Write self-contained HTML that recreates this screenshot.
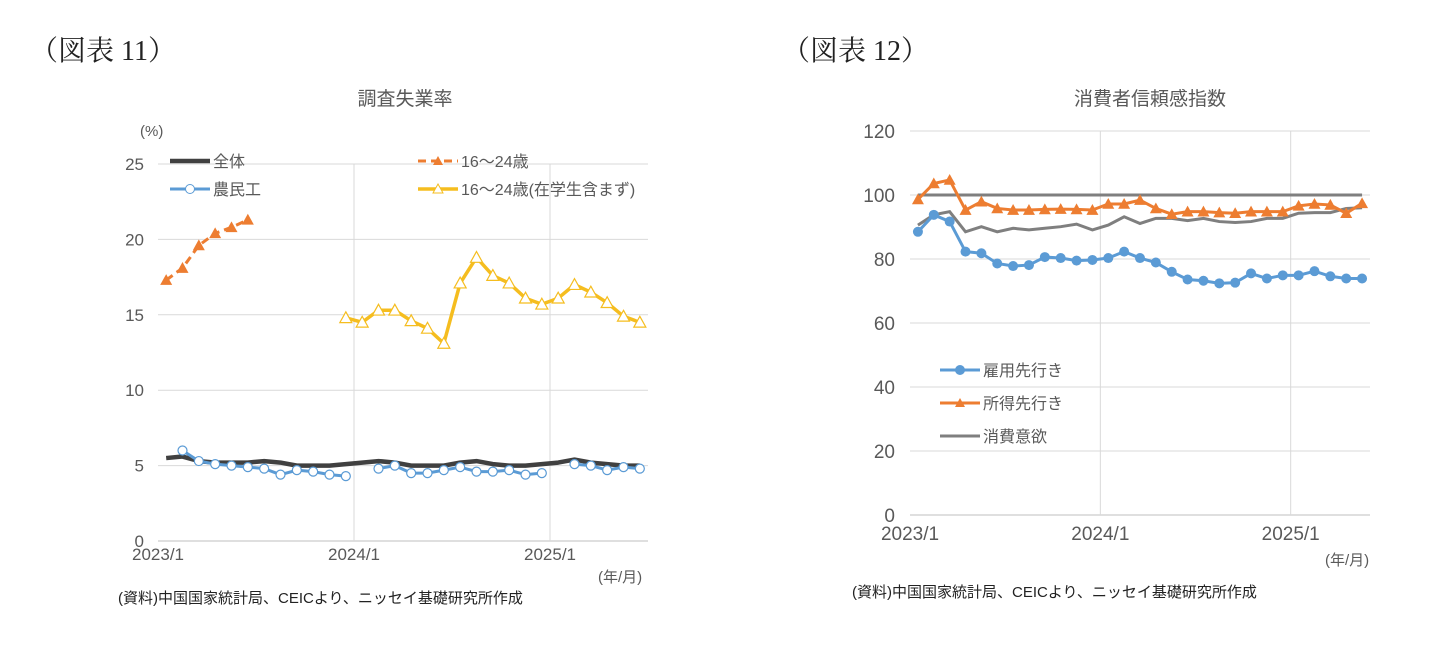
<!DOCTYPE html>
<html><head><meta charset="utf-8"><style>
html,body{margin:0;padding:0;background:#fff;width:1449px;height:645px;overflow:hidden}
svg text{font-family:"Liberation Sans","Noto Sans CJK JP",sans-serif;fill:#595959}
</style></head><body>
<svg id="s" width="1449" height="645">
<text x="30" y="60" style="font-family:'Liberation Serif','Noto Serif CJK SC',serif;font-size:28px;fill:#222">（図表 11）</text>
<text x="782" y="60" style="font-family:'Liberation Serif','Noto Serif CJK SC',serif;font-size:28px;fill:#222">（図表 12）</text>
<text x="405" y="105" text-anchor="middle" font-size="19">調査失業率</text>
<text x="1150" y="105" text-anchor="middle" font-size="19">消費者信頼感指数</text>
<text x="140" y="136" font-size="15">(%)</text>
<text x="598" y="582" font-size="15">(年/月)</text>
<text x="1325" y="565" font-size="15">(年/月)</text>
<text x="118" y="603" font-size="15" style="fill:#222">(資料)中国国家統計局、CEICより、ニッセイ基礎研究所作成</text>
<text x="852" y="597" font-size="15" style="fill:#222">(資料)中国国家統計局、CEICより、ニッセイ基礎研究所作成</text>
<g id="L"></g><g id="R"></g>
</svg>
<script>
// Left chart data (30 months 2023/1..2025/6)
const leftTicks=[0,5,10,15,20,25];
const leftXLabels=["2023/1","2024/1","2025/1"];
const totalRate=[5.5,5.6,5.3,5.2,5.2,5.2,5.3,5.2,5.0,5.0,5.0,5.1,5.2,5.3,5.2,5.0,5.0,5.0,5.2,5.3,5.1,5.0,5.0,5.1,5.2,5.4,5.2,5.1,5.0,5.0];
const youthRate=[17.3,18.1,19.6,20.4,20.8,21.3];
const youthExStudents=[null,null,null,null,null,null,null,null,null,null,null,14.8,14.5,15.3,15.3,14.6,14.1,13.1,17.1,18.8,17.6,17.1,16.1,15.7,16.1,17.0,16.5,15.8,14.9,14.5];
const migrantRate=[null,6.0,5.3,5.1,5.0,4.9,4.8,4.4,4.7,4.6,4.4,4.3,null,4.8,5.0,4.5,4.5,4.7,4.9,4.6,4.6,4.7,4.4,4.5,null,5.1,5.0,4.7,4.9,4.8];
// Right chart data (29 months 2023/1..2025/5)
const rightTicks=[0,20,40,60,80,100,120];
const rightXLabels=["2023/1","2024/1","2025/1"];
const employment=[88.5,93.8,91.7,82.3,81.8,78.6,77.8,78.1,80.6,80.3,79.5,79.7,80.3,82.3,80.3,78.9,76,73.6,73.2,72.4,72.6,75.5,73.9,74.9,74.9,76.2,74.6,73.9,73.9];
const income=[98.6,103.6,104.7,95.3,97.9,95.8,95.3,95.3,95.5,95.6,95.5,95.3,97.2,97.2,98.4,95.8,94.0,94.8,94.8,94.5,94.3,94.8,94.8,94.8,96.6,97.2,96.9,94.3,97.4];
const consumeWill=[90.6,93.8,94.8,88.5,90.1,88.5,89.6,89.1,89.6,90.1,90.9,89.1,90.6,93.2,91.1,92.7,92.7,92.0,92.7,91.7,91.4,91.7,92.7,92.7,94.3,94.5,94.5,95.8,96.0];
const consumeIndex=[100,100,100,100,100,100,100,100,100,100,100,100,100,100,100,100,100,100,100,100,100,100,100,100,100,100,100,100,100];

const NS="http://www.w3.org/2000/svg";
function mk(p,t,a){const e=document.createElementNS(NS,t);for(const k in a)e.setAttribute(k,a[k]);p.appendChild(e);return e;}
function path(xs,ys,vals){let d="",pen=false;vals.forEach((v,i)=>{if(v==null){pen=false;return;}d+=(pen?"L":"M")+xs(i)+" "+ys(v)+" ";pen=true;});return d;}
function tri(x,y,r){return `M${x} ${y-r}L${x+r} ${y+r*0.8}L${x-r} ${y+r*0.8}Z`;}

// LEFT
const L=document.getElementById('L');
const lx0=158,lx1=648,ly0=541,ly1=164,lN=30,lw=(lx1-lx0)/lN;
const lX=i=>lx0+(i+0.5)*lw, lY=v=>ly0-(v/25)*(ly0-ly1);
leftTicks.forEach(t=>{const y=lY(t);
 const g=mk(L,'line',{x1:lx0,x2:lx1,y1:y,y2:y,stroke:t===0?'#bfbfbf':'#d9d9d9','stroke-width':1});
 
 const tx=mk(L,'text',{x:lx0-14,y:y+6,'text-anchor':'end','font-size':17});tx.textContent=t;
 });
leftXLabels.forEach((s,k)=>{const x=lx0+k*12*lw;
 if(k>0){const g=mk(L,'line',{x1:x,x2:x,y1:ly1,y2:ly0,stroke:'#d9d9d9'});}
 const tx=mk(L,'text',{x:x,y:ly0+19,'text-anchor':'middle','font-size':17});tx.textContent=s;
 });
let e;
e=mk(L,'path',{d:path(lX,lY,totalRate),fill:'none',stroke:'#404040','stroke-width':4.5,'stroke-linejoin':'round'});

e=mk(L,'path',{d:path(lX,lY,youthRate),fill:'none',stroke:'#ed7d31','stroke-width':3,'stroke-dasharray':'8,5'});

youthRate.forEach((v,i)=>{const m=mk(L,'path',{d:tri(lX(i),lY(v),6),fill:'#ed7d31'});});
e=mk(L,'path',{d:path(lX,lY,youthExStudents),fill:'none',stroke:'#f5bd1f','stroke-width':3.5,'stroke-linejoin':'round'});

youthExStudents.forEach((v,i)=>{if(v==null)return;const m=mk(L,'path',{d:tri(lX(i),lY(v),6),fill:'#fff',stroke:'#f5bd1f','stroke-width':1.2});});
e=mk(L,'path',{d:path(lX,lY,migrantRate),fill:'none',stroke:'#5b9bd5','stroke-width':3});

migrantRate.forEach((v,i)=>{if(v==null)return;const m=mk(L,'circle',{cx:lX(i),cy:lY(v),r:4.5,fill:'#fff',stroke:'#5b9bd5','stroke-width':1.2});});
// left legend
function leg(p,x,y,label,col,dash,mark,w,name){
 const g=mk(p,'g',{});
 mk(g,'line',{x1:x,x2:x+40,y1:y,y2:y,stroke:col,'stroke-width':w,'stroke-dasharray':dash||''});
 if(mark==='tri')mk(g,'path',{d:tri(x+20,y,5),fill:col});
 if(mark==='otri')mk(g,'path',{d:tri(x+20,y,5),fill:'#fff',stroke:col});
 if(mark==='ocirc')mk(g,'circle',{cx:x+20,cy:y,r:4.5,fill:'#fff',stroke:col});
 if(mark==='circ')mk(g,'circle',{cx:x+20,cy:y,r:5,fill:col});
 const t=mk(g,'text',{x:x+43,y:y+6,'font-size':16});t.textContent=label;}
leg(L,170,161,'全体','#404040',null,null,4.5,'legend-total');
leg(L,170,189,'農民工','#5b9bd5',null,'ocirc',3,'legend-migrant');
leg(L,418,161,'16～24歳','#ed7d31','8,5','tri',3,'legend-youth');
leg(L,418,189,'16～24歳(在学生含まず)','#f5bd1f',null,'otri',3.5,'legend-youth-ex-students');

// RIGHT
const R=document.getElementById('R');
const rx0=910,rx1=1370,ry0=515,ry1=131,rN=29,rw=(rx1-rx0)/rN;
const rX=i=>rx0+(i+0.5)*rw, rY=v=>ry0-(v/120)*(ry0-ry1);
rightTicks.forEach(t=>{const y=rY(t);
 const g=mk(R,'line',{x1:rx0,x2:rx1,y1:y,y2:y,stroke:t===0?'#bfbfbf':'#d9d9d9'});
 
 const tx=mk(R,'text',{x:rx0-15,y:y+7,'text-anchor':'end','font-size':19});tx.textContent=t;
 });
rightXLabels.forEach((s,k)=>{const x=rx0+k*12*rw;
 if(k>0){const g=mk(R,'line',{x1:x,x2:x,y1:ry1,y2:ry0,stroke:'#d9d9d9'});}
 const tx=mk(R,'text',{x:x,y:ry0+25,'text-anchor':'middle','font-size':19});tx.textContent=s;
 });
e=mk(R,'path',{d:path(rX,rY,consumeIndex),fill:'none',stroke:'#7f7f7f','stroke-width':3});

e=mk(R,'path',{d:path(rX,rY,consumeWill),fill:'none',stroke:'#7f7f7f','stroke-width':3});

e=mk(R,'path',{d:path(rX,rY,income),fill:'none',stroke:'#ed7d31','stroke-width':3});

income.forEach((v,i)=>{const m=mk(R,'path',{d:tri(rX(i),rY(v),6),fill:'#ed7d31'});});
e=mk(R,'path',{d:path(rX,rY,employment),fill:'none',stroke:'#5b9bd5','stroke-width':3});

employment.forEach((v,i)=>{const m=mk(R,'circle',{cx:rX(i),cy:rY(v),r:5,fill:'#5b9bd5'});});
leg(R,940,370,'雇用先行き','#5b9bd5',null,'circ',3,'legend-employment');
leg(R,940,403,'所得先行き','#ed7d31',null,'tri',3,'legend-income');
leg(R,940,436,'消費意欲','#7f7f7f',null,null,3,'legend-consume-will');
</script>
</body></html>
